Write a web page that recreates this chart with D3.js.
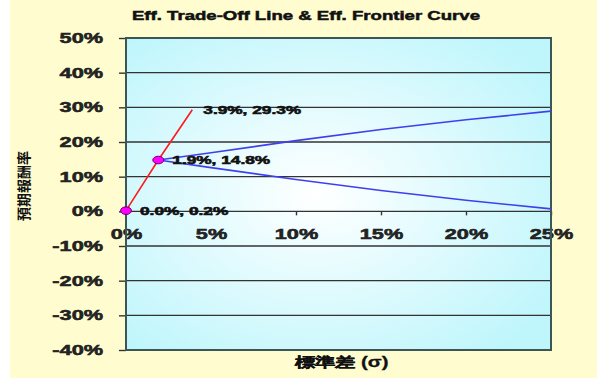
<!DOCTYPE html>
<meta charset="utf-8">
<style>
  body { margin: 0; background: #fff; }
  text { font-family: "Liberation Sans", Arial, sans-serif; font-weight: bold; }
</style>
<body>
<svg width="601" height="381"></svg>
<script src="https://cdnjs.cloudflare.com/ajax/libs/d3/7.8.5/d3.min.js"></script>
<script>

// values, in percent
var tradeOffSigma  = [0.0, 1.9, 3.9];
var tradeOffReturn = [0.2, 14.8, 29.3];
var pointLabels    = ["0.0%, 0.2%", "1.9%, 14.8%", "3.9%, 29.3%"];
var markerCount    = 2;   // only the first two points carry a marker

var frontierSigma  = [1.9, 5, 10, 15, 20, 25];
var frontierUpper  = [14.8, 16.9, 20.4, 23.6, 26.4, 28.9];
var frontierLower  = [14.8, 12.6, 9.2, 6.0, 3.2, 0.7];

var xTicks = [0, 5, 10, 15, 20, 25];
var yTicks = [-40, -30, -20, -10, 0, 10, 20, 30, 40, 50];

var title  = "Eff. Trade-Off Line & Eff. Frontier Curve";
var xTitle = "標準差 (σ)";
var yTitle = "預期報酬率";

var margin = {top: 38, right: 50, bottom: 31, left: 126},
    width = 601 - margin.left - margin.right,
    height = 381 - margin.top - margin.bottom;

var svg = d3.select('svg');

// the source picture is squeezed wide, so text is stretched sideways
function stretch(sel, k) {
  sel.each(function() {
    var len = this.getComputedTextLength();
    d3.select(this).attr('textLength', len * k).attr('lengthAdjust', 'spacingAndGlyphs');
  });
}
// a thin outline to get the heavy look of the original font
function heavy(sel, w) {
  sel.attr('stroke', '#111').attr('stroke-width', w).attr('paint-order', 'stroke');
}

var defs = svg.append('defs');
var grad = defs.append('radialGradient').attr('id', 'plotbg')
  .attr('cx', '45%').attr('cy', '50%').attr('r', '65%');
grad.append('stop').attr('offset', '0%').attr('stop-color', '#ffffff');
grad.append('stop').attr('offset', '100%').attr('stop-color', '#bff6fc');

svg.append('rect')
  .attr('x', 10).attr('y', 0).attr('width', 587).attr('height', 378)
  .attr('fill', '#fffdd0');

var x = d3.scaleLinear().domain([0, 25]).range([0, width]);
var y = d3.scaleLinear().domain([-40, 50]).range([height, 0]);

var g = svg.append('g').attr('transform', 'translate(' + margin.left + ',' + margin.top + ')');

g.append('rect')
  .attr('width', width).attr('height', height)
  .attr('fill', 'url(#plotbg)');

// horizontal grid
g.selectAll('.grid')
  .data(yTicks)
  .enter().append('line')
  .attr('class', 'grid')
  .attr('x1', 0).attr('x2', width)
  .attr('y1', d => y(d)).attr('y2', d => y(d))
  .attr('stroke', '#333')
  .attr('stroke-width', 1.4);

// y axis
var yAxis = g.append('g')
  .call(d3.axisLeft(y).tickValues(yTicks).tickSize(7).tickPadding(16).tickFormat(d => d + '%'));
yAxis.select('.domain').remove();
yAxis.selectAll('.tick line').attr('stroke', '#333').attr('stroke-width', 1.4);
yAxis.selectAll('.tick text')
  .attr('font-size', 14).attr('fill', '#222')
  .style('font-family', '"Liberation Sans", Arial, sans-serif');
stretch(yAxis.selectAll('.tick text'), 1.55);
heavy(yAxis.selectAll('.tick text'), 0.5);

// x axis sits on the 0% line
var xAxis = g.append('g')
  .attr('transform', 'translate(0,' + y(0) + ')')
  .call(d3.axisBottom(x).tickValues(xTicks).tickSize(4).tickPadding(14).tickFormat(d => d + '%'));
xAxis.select('.domain').remove();
xAxis.selectAll('.tick line').attr('stroke', '#333').attr('stroke-width', 1.4);
xAxis.selectAll('.tick text')
  .attr('font-size', 14).attr('fill', '#222')
  .style('font-family', '"Liberation Sans", Arial, sans-serif');
stretch(xAxis.selectAll('.tick text'), 1.55);
heavy(xAxis.selectAll('.tick text'), 0.5);

// plot border
g.append('rect')
  .attr('width', width).attr('height', height)
  .attr('fill', 'none')
  .attr('stroke', '#3c5656')
  .attr('stroke-width', 2);

// frontier curve
var frontLine = d3.line().x(d => x(d[0])).y(d => y(d[1]));
[frontierUpper, frontierLower].forEach(function(series) {
  g.append('path')
    .datum(frontierSigma.map((s, i) => [s, series[i]]))
    .attr('d', frontLine)
    .attr('fill', 'none')
    .attr('stroke', '#3f3fee')
    .attr('stroke-width', 1.6);
});

// trade-off line
var tradePts = tradeOffSigma.map((s, i) => [s, tradeOffReturn[i]]);
g.append('path')
  .datum(tradePts)
  .attr('d', frontLine)
  .attr('fill', 'none')
  .attr('stroke', '#ff1a1a')
  .attr('stroke-width', 1.6);

g.selectAll('.marker')
  .data(tradePts.slice(0, markerCount))
  .enter().append('ellipse')
  .attr('class', 'marker')
  .attr('cx', d => x(d[0])).attr('cy', d => y(d[1]))
  .attr('rx', 5.5).attr('ry', 3.8)
  .attr('fill', '#ff00ff')
  .attr('stroke', '#6a006a')
  .attr('stroke-width', 1);

var labels = g.selectAll('.plabel')
  .data(tradePts)
  .enter().append('text')
  .attr('class', 'plabel')
  .attr('x', (d, i) => x(d[0]) + (i < markerCount ? 14 : 11))
  .attr('y', d => y(d[1]))
  .attr('dy', '0.35em')
  .attr('font-size', 11.5)
  .attr('fill', '#111')
  .text((d, i) => pointLabels[i]);
stretch(labels, 1.5);
heavy(labels, 0.6);

// titles
var t = svg.append('text')
  .attr('x', 306).attr('y', 20)
  .attr('text-anchor', 'middle')
  .attr('font-size', 13)
  .attr('fill', '#111')
  .text(title);
stretch(t, 1.43);
heavy(t, 0.5);

var xt = svg.append('text')
  .attr('x', margin.left + width / 2 + 3).attr('y', 367)
  .attr('text-anchor', 'middle')
  .attr('font-size', 14)
  .attr('fill', '#111')
  .text(xTitle);
stretch(xt, 1.45);
heavy(xt, 0.3);

svg.append('text')
  .attr('transform', 'translate(29,186) rotate(-90)')
  .attr('text-anchor', 'middle')
  .attr('font-size', 14)
  .attr('fill', '#111')
  .style('font-family', '"Noto Sans CJK TC", sans-serif')
  .text(yTitle);
</script>
